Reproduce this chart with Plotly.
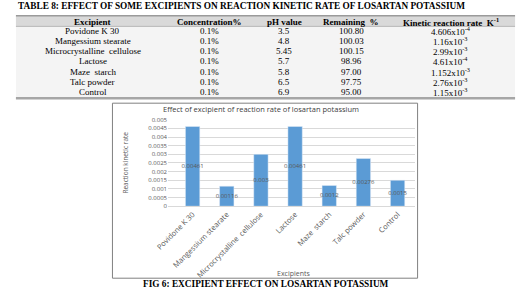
import plotly.graph_objects as go

W, H = 518, 289

# ---------- data ----------
table_headers = ["Excipient", "Concentration%", "pH value", "Remaining  %", "Kinetic reaction rate  K<sup>-1</sup>"]
excipients_tbl = ["Povidone K 30", "Mangessium stearate", "Microcrystalline  cellulose", "Lactose",
                  "Maze  starch", "Talc powder", "Control"]
concentration = ["0.1%"] * 7
ph_value = ["3.5", "4.8", "5.45", "5.7", "5.8", "6.5", "6.9"]
remaining = ["100.80", "100.03", "100.15", "98.96", "97.00", "97.75", "95.00"]
kinetic_rate = ["4.606x10<sup>-4</sup>", "1.16x10<sup>-3</sup>", "2.99x10<sup>-3</sup>", "4.61x10<sup>-4</sup>",
                "1.152x10<sup>-3</sup>", "2.76x10<sup>-3</sup>", "1.15x10<sup>-3</sup>"]

chart_categories = ["Povidone K 30", "Mangessium stearate", "Microcrystalline  cellulose", "Lactose",
                    "Maze  starch", "Talc powder", "Control"]
chart_values = [0.00461, 0.00116, 0.003, 0.00461, 0.0012, 0.00276, 0.0015]
chart_labels = ["0.00461", "0.00116", "0.003", "0.00461", "0.0012", "0.00276", "0.0015"]


def px(x):
    return x / W


def py(y):
    return 1 - y / H


serif = "Liberation Serif"
sans = "Open Sans"

fig = go.Figure()

fig.add_trace(go.Bar(
    x=chart_categories, y=chart_values, marker=dict(color="#5b9bd5"),
    width=0.42, hoverinfo="skip", xaxis="x", yaxis="y",
))
fig.add_trace(go.Scatter(
    x=chart_categories, y=[v / 2 for v in chart_values], text=chart_labels,
    mode="text", textfont=dict(family=sans, size=6, color="#595959"),
    hoverinfo="skip", xaxis="x", yaxis="y",
))

fig.update_layout(
    width=W, height=H, margin=dict(l=0, r=0, t=0, b=0),
    paper_bgcolor="white", plot_bgcolor="white", showlegend=False,
    xaxis=dict(domain=[px(159), px(412)], type="category", range=[-0.72, 6.5],
               tickangle=-45, tickfont=dict(family=sans, size=7.5, color="#595959"),
               showgrid=False, showline=True, linecolor="#d9d9d9", linewidth=1,
               ticks="", anchor="y"),
    yaxis=dict(domain=[py(208), py(119)], range=[0, 0.005], dtick=0.0005,
               tickfont=dict(family=sans, size=6, color="#595959"),
               showgrid=True, gridcolor="#d9d9d9", gridwidth=1, zeroline=False,
               ticks="", anchor="x"),
)

# ---------- table (drawn with layout shapes + annotations) ----------
tbl_left, tbl_right = 3, 515
tbl_top, head_bot, tbl_bot = 12, 23, 97
col_centers = [82, 202, 278, 347, 449]
row_first, row_step = 27.5, 10.5

shapes = [
    dict(type="rect", xref="paper", yref="paper", layer="below",
         x0=px(tbl_left), x1=px(tbl_right), y0=py(head_bot), y1=py(tbl_top),
         fillcolor="#d9d9d9", line=dict(width=0)),
    dict(type="rect", xref="paper", yref="paper", layer="below",
         x0=px(tbl_left), x1=px(tbl_right), y0=py(tbl_bot), y1=py(head_bot),
         fillcolor="#f4f4f4", line=dict(width=0)),
    dict(type="line", xref="paper", yref="paper", x0=px(tbl_left), x1=px(tbl_right),
         y0=py(tbl_top), y1=py(tbl_top), line=dict(color="#9a9a9a", width=1.5)),
    dict(type="line", xref="paper", yref="paper", x0=px(tbl_left), x1=px(tbl_right),
         y0=py(head_bot), y1=py(head_bot), line=dict(color="#b5b5b5", width=1)),
    dict(type="line", xref="paper", yref="paper", x0=px(tbl_left), x1=px(tbl_right),
         y0=py(tbl_bot), y1=py(tbl_bot), line=dict(color="#a6a6a6", width=2.5)),
    # chart frame
    dict(type="rect", xref="paper", yref="paper", x0=px(102), x1=px(415), y0=py(282), y1=py(102),
         line=dict(color="#808080", width=1)),
]

tfont = dict(family=serif, size=9, color="black")
P = dict(xref="paper", yref="paper", showarrow=False)
annotations = []
for h, cx in zip(table_headers, col_centers):
    annotations.append(dict(text=f"<b>{h}</b>", x=px(cx), y=py((tbl_top + head_bot) / 2 + 0.5),
                            xanchor="center", yanchor="middle", font=tfont, **P))
columns = [excipients_tbl, concentration, ph_value, remaining, kinetic_rate]
for col, cx in zip(columns, col_centers):
    for i, val in enumerate(col):
        annotations.append(dict(text=val, x=px(cx), y=py(row_first + i * row_step),
                                xanchor="center", yanchor="middle", font=tfont, **P))

annotations += [
    dict(text="<b>TABLE 8: EFFECT OF SOME EXCIPIENTS ON REACTION KINETIC RATE OF LOSARTAN POTASSIUM</b>",
         x=px(3), y=py(2.5), xanchor="left", yanchor="middle",
         font=dict(family=serif, size=9.3, color="black"), **P),
    dict(text="Effect of excipient of reaction rate of losartan potassium",
         x=px(254), y=py(108), xanchor="center", yanchor="middle",
         font=dict(family=sans, size=7.5, color="#404040"), **P),
    dict(text="Reaction kinetic rate", textangle=-90,
         x=px(115), y=py(163), xanchor="center", yanchor="middle",
         font=dict(family=sans, size=6.5, color="#595959"), **P),
    dict(text="Excipients",
         x=px(288), y=py(277), xanchor="center", yanchor="middle",
         font=dict(family=sans, size=7, color="#595959"), **P),
    dict(text="<b>FIG 6: EXCIPIENT EFFECT ON LOSARTAN POTASSIUM</b>",
         x=px(259), y=py(288), xanchor="center", yanchor="middle",
         font=dict(family=serif, size=9.3, color="black"), **P),
]
fig.update_layout(shapes=shapes, annotations=annotations)

fig.write_html("out.html")
